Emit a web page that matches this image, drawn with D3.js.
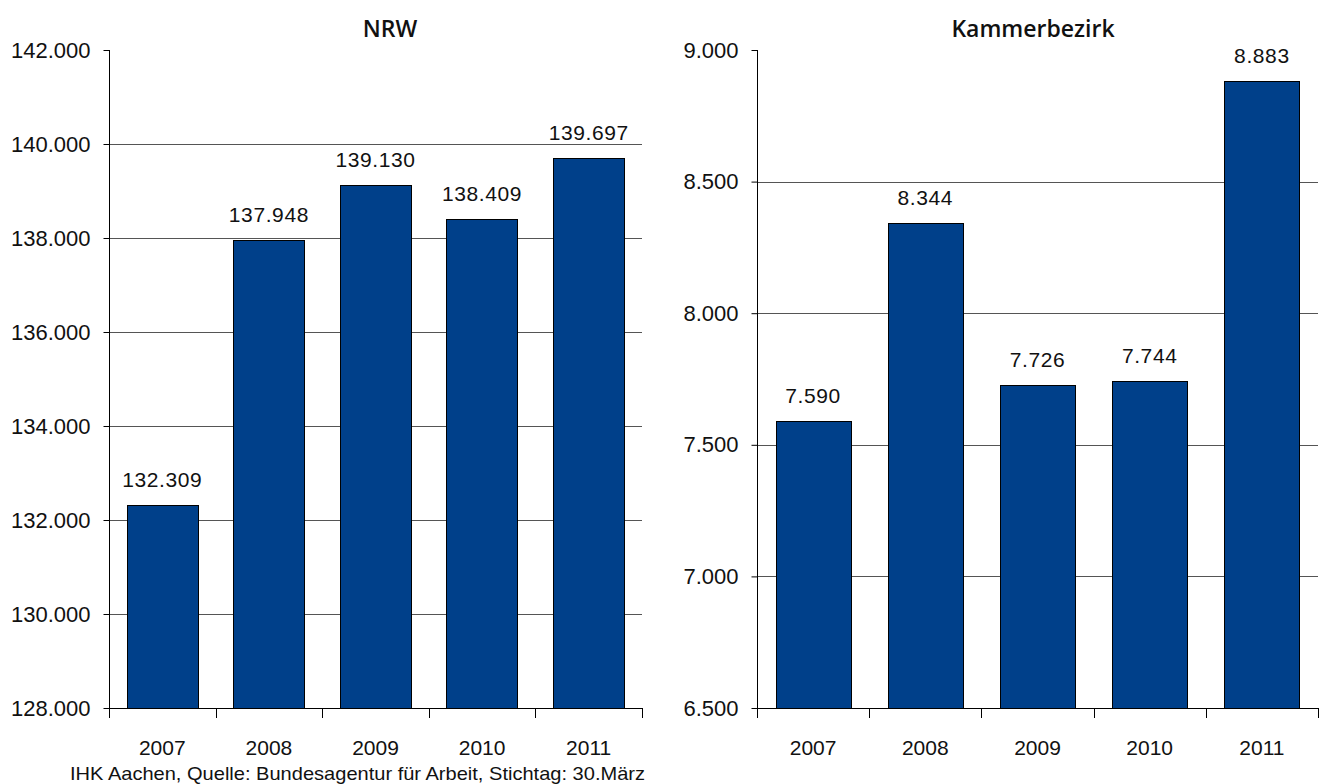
<!DOCTYPE html>
<html>
<head>
<meta charset="utf-8">
<script src="https://cdn.jsdelivr.net/npm/d3@7"></script>
<style>
  body { margin: 0; background: #fff; }
  svg { display: block; }
</style>
</head>
<body>
<div id="container"></div>
<script>
const years = ['2007', '2008', '2009', '2010', '2011'];
const nrwValues = [132309, 137948, 139130, 138409, 139697];
const kammerValues = [7590, 8344, 7726, 7744, 8883];
const nrwTicks = [128000, 130000, 132000, 134000, 136000, 138000, 140000, 142000];
const kammerTicks = [6500, 7000, 7500, 8000, 8500, 9000];
const footnote = 'IHK Aachen, Quelle: Bundesagentur für Arbeit, Stichtag: 30.März';

const W = 1324, H = 784;
const barColor = '#00408a';
const fmt = v => d3.format(',')(v).replace(/,/g, '.');

const svg = d3.select('#container').append('svg')
    .attr('width', W)
    .attr('height', H);

function drawPanel(opts) {
    const g = svg.append('g');
    const x = d3.scaleBand()
        .domain(years)
        .range([opts.left, opts.right])
        .paddingInner(0.33)
        .paddingOuter(0.165);
    const xb = d3.scaleBand().domain(years).range([opts.left, opts.right]);
    const y = d3.scaleLinear()
        .domain([opts.ticks[0], opts.ticks[opts.ticks.length - 1]])
        .range([opts.bottom, opts.top]);

    // gridlines (not on the top tick)
    g.selectAll('line.grid')
        .data(opts.ticks.slice(1, -1))
        .join('line')
        .attr('class', 'grid')
        .attr('x1', opts.left).attr('x2', opts.right)
        .attr('y1', d => Math.round(y(d)) + 0.5)
        .attr('y2', d => Math.round(y(d)) + 0.5)
        .style('stroke', '#555')
        .style('stroke-width', 1);

    // bars
    g.selectAll('rect.bar')
        .data(opts.values)
        .join('rect')
        .attr('class', 'bar')
        .attr('x', (d, i) => Math.round(x(years[i])) + 0.5)
        .attr('width', Math.round(x.bandwidth()))
        .attr('y', d => Math.round(y(d)) + 0.5)
        .attr('height', d => Math.round(opts.bottom) - Math.round(y(d)))
        .style('fill', barColor)
        .style('stroke', '#000')
        .style('stroke-width', 1);

    // value labels
    g.selectAll('text.val')
        .data(opts.values)
        .join('text')
        .attr('class', 'val')
        .attr('x', (d, i) => x(years[i]) + x.bandwidth() / 2)
        .attr('y', d => y(d) - 18)
        .attr('text-anchor', 'middle')
        .style('font-family', '"Liberation Sans", Arial, sans-serif')
        .style('font-size', '21px')
        .style('letter-spacing', '0.6px')
        .style('fill', '#111')
        .text(d => fmt(d));

    // y axis
    const yAxis = d3.axisLeft(y)
        .tickValues(opts.ticks)
        .tickSize(6)
        .tickPadding(13)
        .tickFormat(fmt);
    const ya = g.append('g')
        .attr('transform', `translate(${Math.round(opts.left) + 0.5},0)`)
        .call(yAxis);
    ya.select('.domain').remove();
    ya.append('line')
        .attr('x1', 0).attr('x2', 0)
        .attr('y1', opts.top).attr('y2', opts.bottom + 10)
        .style('stroke', '#000');
    ya.selectAll('.tick line').style('stroke', '#000');
    ya.selectAll('.tick text')
        .style('font-family', '"Liberation Sans", Arial, sans-serif')
        .style('font-size', '22px')
        .style('fill', '#111');

    // x axis: baseline with ticks at band boundaries
    const xa = g.append('g');
    xa.append('line')
        .attr('x1', opts.left).attr('x2', opts.right)
        .attr('y1', Math.round(opts.bottom) + 0.5).attr('y2', Math.round(opts.bottom) + 0.5)
        .style('stroke', '#000');
    xa.selectAll('line.xt')
        .data(years)
        .join('line')
        .attr('class', 'xt')
        .attr('x1', d => Math.round(xb(d) + xb.bandwidth()) + 0.5)
        .attr('x2', d => Math.round(xb(d) + xb.bandwidth()) + 0.5)
        .attr('y1', opts.bottom).attr('y2', opts.bottom + 10)
        .style('stroke', '#000');
    xa.selectAll('text')
        .data(years)
        .join('text')
        .attr('x', d => xb(d) + xb.bandwidth() / 2)
        .attr('y', opts.bottom + 47)
        .attr('text-anchor', 'middle')
        .style('font-family', '"Liberation Sans", Arial, sans-serif')
        .style('font-size', '21px')
        .style('fill', '#111')
        .text(d => d);

    // title
    g.append('text')
        .attr('x', opts.titleX)
        .attr('y', 37)
        .attr('text-anchor', 'middle')
        .style('font-family', '"Open Sans", "DejaVu Sans", sans-serif')
        .style('font-size', '23px')
        .style('font-weight', 600)
        .style('fill', '#111')
        .text(opts.title);
}

drawPanel({
    title: 'NRW', titleX: 390,
    values: nrwValues, ticks: nrwTicks,
    left: 109, right: 642, top: 50, bottom: 708
});

drawPanel({
    title: 'Kammerbezirk', titleX: 1033,
    values: kammerValues, ticks: kammerTicks,
    left: 757, right: 1318, top: 50, bottom: 708
});

svg.append('text')
    .attr('x', 70)
    .attr('y', 780)
    .attr('textLength', 575)
    .attr('lengthAdjust', 'spacingAndGlyphs')
    .style('font-family', '"Liberation Sans", Arial, sans-serif')
    .style('font-size', '19px')
    .style('fill', '#111')
    .text(footnote);
</script>
</body>
</html>
